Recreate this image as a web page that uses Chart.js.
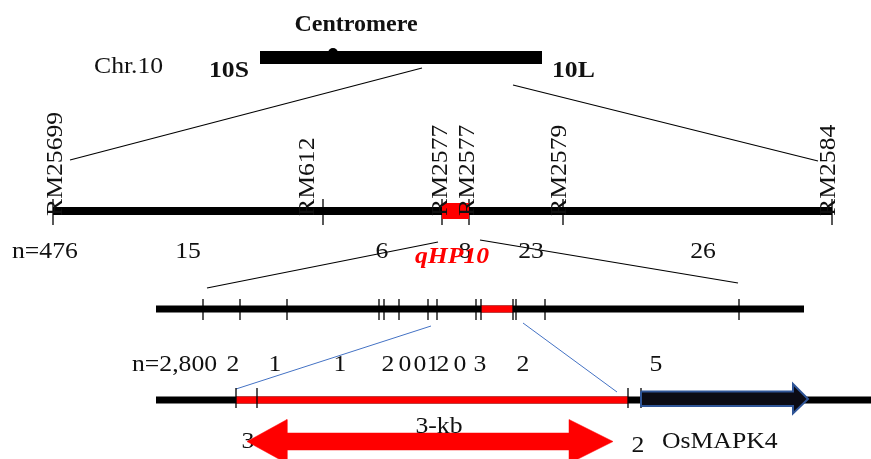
<!DOCTYPE html>
<html>
<head>
<meta charset="utf-8">
<script src="https://cdn.jsdelivr.net/npm/chart.js@4.4.0/dist/chart.umd.min.js"></script>
<style>
  html, body { margin: 0; padding: 0; background: #fff; }
  #wrap { width: 871px; height: 459px; }
</style>
</head>
<body>
<div id="wrap"><canvas id="mapchart" width="871" height="459"></canvas></div>
<script>
// map data
var chrName = 'Chr.10';
var chrArms = ['10S', '10L'];
var markerNames = ['RM25699', 'RM612', 'RM2577', 'RM2577', 'RM2579', 'RM2584'];
var markerPos = [53, 323, 442, 469, 563, 832];
var popLabels = ['n=476', 'n=2,800'];
var countsN476 = ['15', '6', '8', '23', '26'];
var fineMarkerPos = [203, 240, 287, 379, 384, 399, 428, 437, 476, 481, 513, 516, 545, 739];
var countsN2800 = ['2', '1', '1', '2', '0', '0', '1', '2', '0', '3', '2', '5'];
var candidateMarkerPos = [236, 257, 628, 641];
var candidateCounts = ['3', '2'];
var qtlName = 'qHP10';
var geneName = 'OsMAPK4';
var regionSize = '3-kb';

// layout (positions of rows and labels)
var rowY = { chr: 57.5, map: 211, fine: 309, cand: 400, arrow: 441.5 };
var chrSpan = [260, 542];
var fineSpan = [156, 804];
var candSpan = [156, 871];
var markerLabelX = [54, 306, 439, 466, 558, 827];
var countsN476X = [188, 382, 465, 531, 703];
var countsN2800X = [233, 275, 340, 388, 405, 420, 433, 443, 460, 480, 523, 656];
var candidateCountsX = [248, 638];

var SX = 1.07;
var FONT = '"Liberation Serif", "Times New Roman", serif';
var INK = '#111';

function seg(x0, y0, x1, y1) {
    return [{x: x0, y: y0}, {x: x1, y: y1}];
}
function ticks(xs, y0, y1) {
    var out = [];
    xs.forEach(function (x) {
        out.push({x: x, y: y0}, {x: x, y: y1}, {x: x, y: null});
    });
    return out;
}
function line(data, color, width) {
    return {
        data: data, showLine: true, borderColor: color, borderWidth: width,
        borderCapStyle: 'butt', pointRadius: 0, fill: false, spanGaps: false, clip: false
    };
}
function shape(data, fillColor, edgeColor, width) {
    return {
        data: data, showLine: true, borderColor: edgeColor, borderWidth: width,
        backgroundColor: fillColor, pointRadius: 0, fill: 'shape', clip: false,
        borderJoinStyle: 'miter'
    };
}

var lastM = markerPos.length - 1;
var datasets = [
    // chromosome
    line(seg(chrSpan[0], rowY.chr, chrSpan[1], rowY.chr), '#000', 13),
    { data: [{x: 333, y: 53}], pointRadius: 5, pointBackgroundColor: '#000', pointBorderWidth: 0, clip: false },
    line(seg(422, 68, 70, 160), '#000', 1.2),
    line(seg(513, 85, 818, 161), '#000', 1.2),
    // coarse map
    line(seg(markerPos[0], rowY.map, markerPos[lastM], rowY.map), '#000', 8),
    line(ticks(markerPos, rowY.map - 12, rowY.map + 14), '#000', 1.3),
    line(seg(markerPos[2], rowY.map, markerPos[3], rowY.map), '#ff0000', 16),
    line(seg(438, 242, 207, 288), '#000', 1.2),
    line(seg(480, 240, 738, 283), '#000', 1.2),
    // fine map
    line(seg(fineSpan[0], rowY.fine, fineSpan[1], rowY.fine), '#000', 7),
    line(seg(fineMarkerPos[9], rowY.fine, fineMarkerPos[10], rowY.fine), '#ff0000', 7),
    line(ticks(fineMarkerPos, rowY.fine - 10, rowY.fine + 11), '#000', 1.3),
    line(seg(431, 326, 236, 389), '#4472c4', 1),
    line(seg(523, 323, 617, 392), '#4472c4', 1),
    // candidate region
    line(seg(candSpan[0], rowY.cand, candSpan[1], rowY.cand), '#000', 7),
    line(seg(candidateMarkerPos[0], rowY.cand, candidateMarkerPos[2], rowY.cand), '#ff0000', 7),
    line(ticks(candidateMarkerPos, rowY.cand - 12, rowY.cand + 8), '#000', 1.3),
    shape([{x: 641, y: 391.5}, {x: 793, y: 391.5}, {x: 793, y: 384}, {x: 808, y: 399},
           {x: 793, y: 413.5}, {x: 793, y: 406}, {x: 641, y: 406}, {x: 641, y: 391.5}],
          '#0b0b14', '#2f5597', 2),
    shape([{x: 247, y: rowY.arrow}, {x: 287, y: rowY.arrow - 22}, {x: 287, y: rowY.arrow - 8.5},
           {x: 569, y: rowY.arrow - 8.5}, {x: 569, y: rowY.arrow - 22}, {x: 613, y: rowY.arrow},
           {x: 569, y: rowY.arrow + 22}, {x: 569, y: rowY.arrow + 8.5}, {x: 287, y: rowY.arrow + 8.5},
           {x: 287, y: rowY.arrow + 22}, {x: 247, y: rowY.arrow}],
          '#ff0000', '#ff0000', 0.5)
];
// later datasets on top
datasets.forEach(function (d, i) { d.order = datasets.length - i; });

function txt(chart, s, x, y, o) {
    o = o || {};
    var ctx = chart.ctx;
    var px = chart.scales.x.getPixelForValue(x);
    var py = chart.scales.y.getPixelForValue(y);
    ctx.save();
    ctx.translate(px, py);
    if (o.rot) ctx.rotate(o.rot);
    ctx.scale(o.sx || SX, 1);
    ctx.font = (o.style || '') + ' ' + (o.size || 24) + 'px ' + FONT;
    ctx.fillStyle = o.color || INK;
    ctx.textAlign = o.align || 'left';
    ctx.textBaseline = 'alphabetic';
    ctx.fillText(s, 0, 0);
    ctx.restore();
}

var labelPlugin = {
    id: 'mapLabels',
    beforeDatasetsDraw: function (chart) {
        // this one sits under the arrow tip
        txt(chart, candidateCounts[0], candidateCountsX[0], 448, {align: 'center'});
    },
    afterDatasetsDraw: function (chart) {
        txt(chart, 'Centromere', 356, 31, {style: 'bold', align: 'center', sx: 1.0});
        txt(chart, chrName, 94, 73);
        txt(chart, chrArms[0], 209, 77, {style: 'bold'});
        txt(chart, chrArms[1], 552, 77, {style: 'bold'});
        markerNames.forEach(function (m, i) {
            txt(chart, m, markerLabelX[i] + 8, 216, {rot: -Math.PI / 2});
        });
        txt(chart, popLabels[0], 12, 258);
        countsN476.forEach(function (c, i) {
            txt(chart, c, countsN476X[i], 258, {align: 'center'});
        });
        txt(chart, qtlName, 415, 263, {style: 'italic bold', color: '#ff0000'});
        txt(chart, popLabels[1], 132, 371);
        countsN2800.forEach(function (c, i) {
            txt(chart, c, countsN2800X[i], 371, {align: 'center'});
        });
        txt(chart, regionSize, 439, 433, {align: 'center'});
        txt(chart, candidateCounts[1], candidateCountsX[1], 452, {align: 'center'});
        txt(chart, geneName, 662, 448);
    }
};

new Chart(document.getElementById('mapchart'), {
    type: 'scatter',
    data: { datasets: datasets },
    options: {
        responsive: false,
        animation: false,
        events: [],
        layout: { padding: 0, autoPadding: false },
        plugins: { legend: { display: false }, tooltip: { enabled: false } },
        scales: {
            x: { type: 'linear', min: 0, max: 871, display: false },
            y: { type: 'linear', min: 0, max: 459, reverse: true, display: false }
        }
    },
    plugins: [labelPlugin]
});
</script>
</body>
</html>
